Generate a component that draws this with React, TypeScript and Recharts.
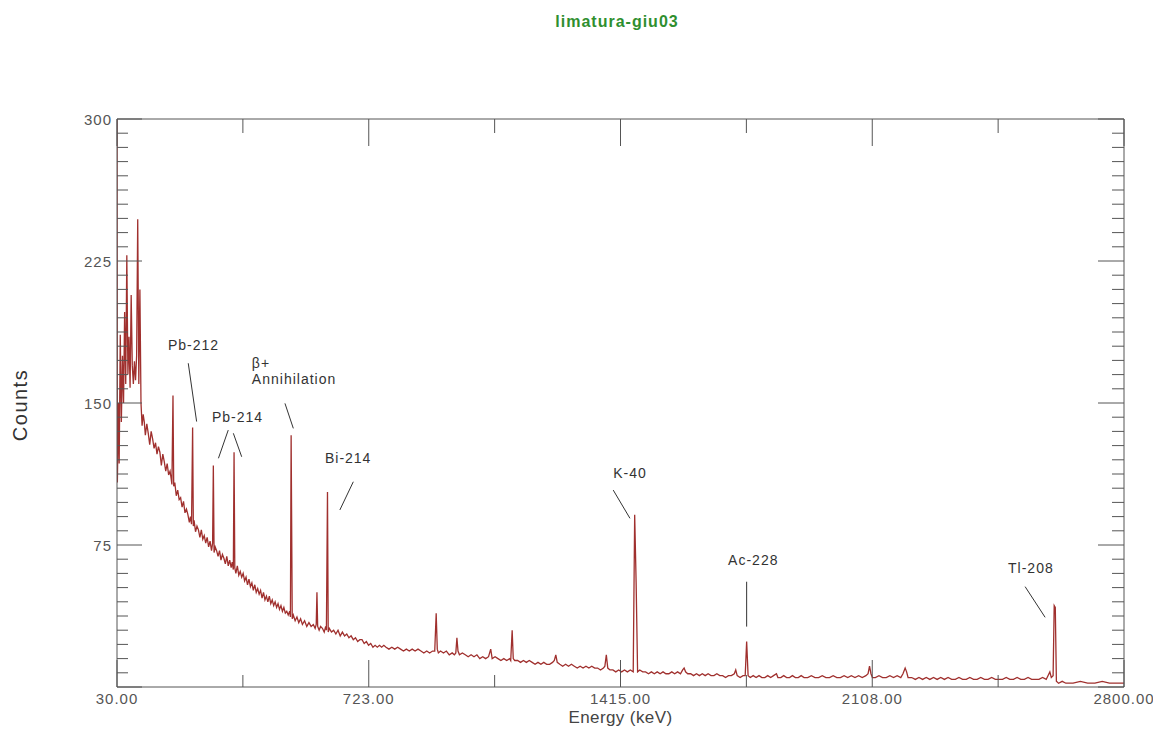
import React from "react";
import {
  LineChart,
  Line,
  XAxis,
  YAxis,
  ReferenceLine,
  ReferenceDot,
} from "recharts";

// gamma spectrum, [energy keV, counts]
const spectrumLow: [number, number][] = [
  [30, 300], [31, 108], [34, 150], [36, 118], [39, 186], [42, 140], [45, 175], [48, 150],
  [51, 198], [54, 160], [57, 228], [60, 165], [63, 185], [66, 158], [69, 207], [72, 170],
  [75, 160], [78, 172], [81, 162], [84, 175], [87, 247], [90, 160], [93, 210], [96, 150],
  [99, 138], [102, 144], [105, 140], [108, 133], [112, 139], [116, 134], [120, 128], [124, 135],
  [128, 131], [132, 126], [136, 129], [140, 123], [144, 127], [148, 124], [152, 117], [156, 123],
  [160, 119], [164, 114], [168, 118], [172, 112], [176, 114], [179, 110], [181, 107], [184, 154],
  [186, 106], [189, 108], [193, 101], [197, 104], [201, 99], [205, 100], [209, 95], [213, 98],
  [217, 92], [221, 94], [225, 91], [229, 87], [232, 90], [235, 86], [238, 137], [240, 85],
  [242, 88], [246, 82], [250, 85], [254, 83], [258, 79], [262, 83], [266, 78], [270, 80],
  [274, 76], [278, 79], [282, 74], [286, 77], [290, 72], [293, 76], [295, 117], [297, 71],
  [300, 74], [304, 72], [308, 69], [312, 72], [316, 67], [320, 70], [324, 68], [328, 65],
  [332, 69], [336, 64], [340, 67], [344, 63], [347, 66], [350, 62], [352, 124], [354, 63],
  [357, 60], [361, 64], [365, 59], [369, 61], [373, 58], [377, 60], [381, 56], [385, 58],
  [389, 54], [393, 57], [397, 53], [401, 55], [405, 51], [409, 54], [413, 50], [417, 52],
  [421, 49], [425, 51], [429, 47], [433, 50], [437, 46], [441, 48], [445, 45], [449, 48],
  [453, 44], [457, 46], [461, 43], [465, 45], [469, 42], [473, 44], [477, 41], [481, 43],
  [485, 40], [489, 42], [493, 39], [497, 40], [501, 38], [505, 40], [507, 37], [509, 133],
  [512, 36], [515, 38], [520, 35], [525, 37], [530, 34], [535, 36], [540, 33], [546, 35],
  [552, 32], [558, 34], [564, 32], [570, 33], [575, 31], [578, 33], [580, 50], [582, 32],
  [586, 30], [590, 32], [595, 31], [600, 29], [604, 32], [606, 30], [609, 103], [611, 29],
  [614, 31], [620, 29], [626, 30], [632, 28], [638, 30], [644, 27], [650, 29], [656, 27],
  [662, 28], [668, 26], [674, 27], [680, 25], [686, 26], [692, 24], [698, 25],
];

const spectrumMid: [number, number][] = [
  [704, 25], [710, 23], [716, 24], [722, 22], [728, 23], [734, 21], [740, 22], [746, 21],
  [752, 22], [758, 21], [764, 22], [770, 21], [778, 20], [786, 21], [794, 20], [802, 21],
  [810, 20], [818, 19], [826, 20], [834, 19], [842, 20], [850, 19], [858, 20], [866, 19],
  [874, 18], [882, 19], [890, 18], [898, 19], [904, 19], [908, 39], [911, 20], [914, 18],
  [920, 19], [928, 18], [936, 19], [944, 17], [952, 18], [958, 17], [962, 18], [965, 26],
  [968, 19], [972, 17], [980, 18], [988, 17], [996, 16], [1004, 17], [1012, 16], [1020, 17],
  [1028, 15], [1036, 16], [1044, 15], [1052, 16], [1058, 20], [1062, 15], [1070, 16], [1078, 15],
  [1086, 14], [1094, 15], [1102, 14], [1110, 15], [1113, 14], [1117, 30], [1120, 15], [1124, 14],
  [1132, 14], [1140, 13], [1148, 14], [1156, 13], [1164, 14], [1172, 13], [1180, 12], [1188, 13],
  [1196, 12], [1204, 13], [1212, 12], [1220, 12], [1228, 13], [1233, 14], [1237, 17], [1241, 13],
  [1248, 12], [1256, 11], [1264, 12], [1272, 11], [1280, 12], [1288, 11], [1296, 10], [1304, 11],
  [1312, 10], [1320, 11], [1328, 10], [1336, 11], [1344, 10], [1352, 10], [1360, 9], [1368, 10],
  [1372, 11], [1376, 17], [1380, 10], [1386, 9], [1394, 9], [1402, 8], [1410, 9], [1418, 8],
  [1426, 9], [1434, 8], [1442, 9], [1450, 8], [1454, 91], [1458, 55], [1462, 8], [1468, 9],
  [1476, 8], [1484, 8], [1492, 7], [1500, 8], [1508, 7], [1516, 8], [1524, 7], [1532, 8],
  [1540, 7], [1548, 7], [1556, 8], [1564, 7], [1572, 8], [1580, 7], [1586, 9], [1590, 10],
  [1594, 8], [1600, 7], [1608, 7], [1616, 6], [1624, 7], [1632, 6], [1640, 7], [1648, 6],
  [1656, 7], [1664, 6], [1672, 6], [1680, 7], [1688, 6], [1696, 6],
];

const spectrumHigh: [number, number][] = [
  [1704, 5], [1712, 6], [1720, 6], [1728, 7], [1732, 9], [1736, 6], [1744, 5], [1752, 6],
  [1758, 6], [1762, 24], [1766, 6], [1772, 5], [1780, 6], [1788, 5], [1796, 6], [1804, 5],
  [1812, 5], [1820, 6], [1828, 5], [1836, 6], [1844, 7], [1848, 5], [1856, 5], [1864, 6],
  [1872, 5], [1880, 5], [1888, 6], [1896, 5], [1904, 5], [1912, 6], [1920, 5], [1930, 5],
  [1940, 6], [1950, 5], [1960, 5], [1970, 6], [1980, 5], [1990, 5], [2000, 6], [2010, 5],
  [2020, 5], [2030, 6], [2040, 5], [2050, 6], [2060, 5], [2070, 6], [2080, 5], [2090, 6],
  [2096, 7], [2100, 11], [2104, 7], [2108, 5], [2116, 5], [2126, 6], [2136, 5], [2146, 5],
  [2156, 6], [2166, 5], [2176, 6], [2186, 5], [2192, 7], [2198, 10], [2202, 8], [2206, 5],
  [2216, 5], [2226, 4], [2236, 5], [2246, 4], [2256, 5], [2266, 4], [2276, 5], [2286, 4],
  [2296, 5], [2306, 4], [2316, 5], [2326, 4], [2336, 4], [2346, 5], [2356, 4], [2366, 4],
  [2376, 5], [2386, 4], [2396, 4], [2406, 5], [2416, 4], [2426, 4], [2436, 5], [2446, 4],
  [2456, 4], [2466, 4], [2476, 5], [2486, 4], [2496, 4], [2506, 5], [2516, 4], [2526, 4],
  [2536, 5], [2546, 4], [2556, 4], [2566, 4], [2576, 5], [2586, 4], [2596, 8], [2600, 5],
  [2605, 6], [2608, 43], [2611, 42], [2614, 3], [2620, 2], [2630, 3], [2640, 2], [2660, 2],
  [2680, 3], [2700, 2], [2720, 2], [2740, 3], [2760, 2], [2780, 2], [2800, 2],
];

const xMajorTicks = [30, 722.5, 1415, 2107.5, 2800];
const xTickLabels = ["30.00", "723.00", "1415.00", "2108.00", "2800.00"];
const xMinorTicks = [376.25, 1068.75, 1761.25, 2453.75];
const yMajorTicks = [0, 75, 150, 225, 300];

// peak labels: text anchor [keV, counts] and leader line
const peakLabels = [
  { text: "Pb-212", at: [170, 180.6] },
  { text: "Pb-214", at: [291, 142.6] },
  { text: "β+", at: [401, 171] },
  { text: "Annihilation", at: [401, 162.5] },
  { text: "Bi-214", at: [602, 121] },
  { text: "K-40", at: [1395, 113] },
  { text: "Ac-228", at: [1711, 67] },
  { text: "Tl-208", at: [2481, 62.9] },
];
const leaderLines = [
  [[226, 171], [249, 140.2]],
  [[336, 135.7], [309, 120.8]],
  [[350, 134], [373, 121.6]],
  [[492, 149.8], [515, 136.6]],
  [[680, 108.4], [643, 93.5]],
  [[1395, 104], [1441, 89.1]],
  [[1762, 55.6], [1762, 31.9]],
  [[2528, 53], [2583, 36.8]],
];

const data = [...spectrumLow, ...spectrumMid, ...spectrumHigh].map(([e, c]) => ({
  energy: e,
  counts: c,
}));

const xTicks = [...xMajorTicks, ...xMinorTicks].sort((a, b) => a - b);
const yTicks: number[] = [];
for (let i = 0; i < yMajorTicks.length - 1; i++) {
  for (let k = 0; k < 10; k++) {
    yTicks.push(yMajorTicks[i] + ((yMajorTicks[i + 1] - yMajorTicks[i]) * k) / 10);
  }
}
yTicks.push(yMajorTicks[yMajorTicks.length - 1]);

const FONT = '"Liberation Sans", Arial, sans-serif';
const AXIS = "#555";
const LINE = "#a0302e";

const isYMajor = (v: number) => yMajorTicks.includes(v);

const LeftTick = (props: any) => {
  const { x, y, payload } = props;
  const major = isYMajor(payload.value);
  return (
    <g>
      <line x1={x} x2={x + (major ? 25 : 11)} y1={y} y2={y} stroke={AXIS} />
      {major && payload.value > 0 && (
        <text
          x={x - 5}
          y={y}
          textAnchor="end"
          dominantBaseline="central"
          fontSize={15}
          letterSpacing={1}
          fill="#555"
          fontFamily={FONT}
        >
          {payload.value}
        </text>
      )}
    </g>
  );
};

const RightTick = (props: any) => {
  const { x, y, payload } = props;
  const major = isYMajor(payload.value);
  return <line x1={x} x2={x - (major ? 26 : 12)} y1={y} y2={y} stroke={AXIS} />;
};

const BottomTick = (props: any) => {
  const { x, y, payload } = props;
  const idx = xMajorTicks.indexOf(payload.value);
  const major = idx >= 0;
  return (
    <g>
      <line x1={x} x2={x} y1={y} y2={y - (major ? 27 : 12)} stroke={AXIS} />
      {major && (
        <text
          x={x}
          y={y + 11}
          textAnchor="middle"
          dominantBaseline="central"
          fontSize={15}
          letterSpacing={1}
          fill="#555"
          fontFamily={FONT}
        >
          {xTickLabels[idx]}
        </text>
      )}
    </g>
  );
};

const TopTick = (props: any) => {
  const { x, y, payload } = props;
  const major = xMajorTicks.includes(payload.value);
  return <line x1={x} x2={x} y1={y} y2={y + (major ? 27 : 14)} stroke={AXIS} />;
};

const EnergyLabel = (props: any) => {
  const vb = props.viewBox || { x: 109, y: 679, width: 1007, height: 35 };
  return (
    <text
      x={vb.x + vb.width / 2}
      y={vb.y + 30}
      textAnchor="middle"
      dominantBaseline="central"
      fontSize={17}
      letterSpacing={0.4}
      fill="#444"
      fontFamily={FONT}
    >
      Energy (keV)
    </text>
  );
};

export default function App() {
  return (
    <div style={{ position: "relative", width: 1153, height: 722, fontFamily: FONT }}>
      <LineChart
        width={1153}
        height={722}
        data={data}
        margin={{ top: 101, right: 27, bottom: 8, left: 49 }}
      >
        <XAxis
          xAxisId="b"
          type="number"
          dataKey="energy"
          domain={[30, 2800]}
          ticks={xTicks}
          interval={0}
          tick={BottomTick}
          tickLine={false}
          tickSize={0}
          tickMargin={0}
          axisLine={{ stroke: AXIS }}
          height={35}
          allowDataOverflow
          label={EnergyLabel}
        />
        <XAxis
          xAxisId="t"
          orientation="top"
          type="number"
          dataKey="energy"
          domain={[30, 2800]}
          ticks={xTicks}
          interval={0}
          tick={TopTick}
          tickLine={false}
          tickSize={0}
          tickMargin={0}
          axisLine={{ stroke: AXIS }}
          height={10}
          allowDataOverflow
        />
        <YAxis
          yAxisId="l"
          type="number"
          domain={[0, 300]}
          ticks={yTicks}
          interval={0}
          tick={LeftTick}
          tickLine={false}
          tickSize={0}
          tickMargin={0}
          axisLine={{ stroke: AXIS }}
          width={60}
          allowDataOverflow
        />
        <YAxis
          yAxisId="r"
          orientation="right"
          type="number"
          domain={[0, 300]}
          ticks={yTicks}
          interval={0}
          tick={RightTick}
          tickLine={false}
          tickSize={0}
          tickMargin={0}
          axisLine={{ stroke: AXIS }}
          width={10}
          allowDataOverflow
        />
        <Line
          xAxisId="b"
          yAxisId="l"
          type="linear"
          dataKey="counts"
          stroke={LINE}
          strokeWidth={1.3}
          dot={false}
          isAnimationActive={false}
        />
        {leaderLines.map((seg, i) => (
          <ReferenceLine
            key={`lead-${i}`}
            xAxisId="b"
            yAxisId="l"
            segment={[
              { x: seg[0][0], y: seg[0][1] },
              { x: seg[1][0], y: seg[1][1] },
            ]}
            stroke="#333"
            strokeWidth={1}
          />
        ))}
        {peakLabels.map((p, i) => (
          <ReferenceDot
            key={`lbl-${i}`}
            xAxisId="b"
            yAxisId="l"
            x={p.at[0]}
            y={p.at[1]}
            r={1}
            shape={(s: any) => (
              <text
                x={s.cx}
                y={s.cy}
                textAnchor="start"
                dominantBaseline="central"
                fontSize={14}
                letterSpacing={1}
                fill="#333"
                fontFamily={FONT}
              >
                {p.text}
              </text>
            )}
          />
        ))}
      </LineChart>
      <div
        style={{
          position: "absolute",
          left: 609,
          top: 6,
          transform: "translateX(-50%)",
          fontSize: 16,
          lineHeight: "16px",
          fontWeight: "bold",
          letterSpacing: 1,
          color: "#2f8f2f",
          whiteSpace: "nowrap",
          zIndex: 1,
        }}
      >
        limatura-giu03
      </div>
      <div
        style={{
          position: "absolute",
          left: 12,
          top: 397,
          transform: "translate(-50%, -50%) rotate(-90deg)",
          fontSize: 20,
          letterSpacing: 1.5,
          color: "#333",
          whiteSpace: "nowrap",
          zIndex: 1,
        }}
      >
        Counts
      </div>
    </div>
  );
}
